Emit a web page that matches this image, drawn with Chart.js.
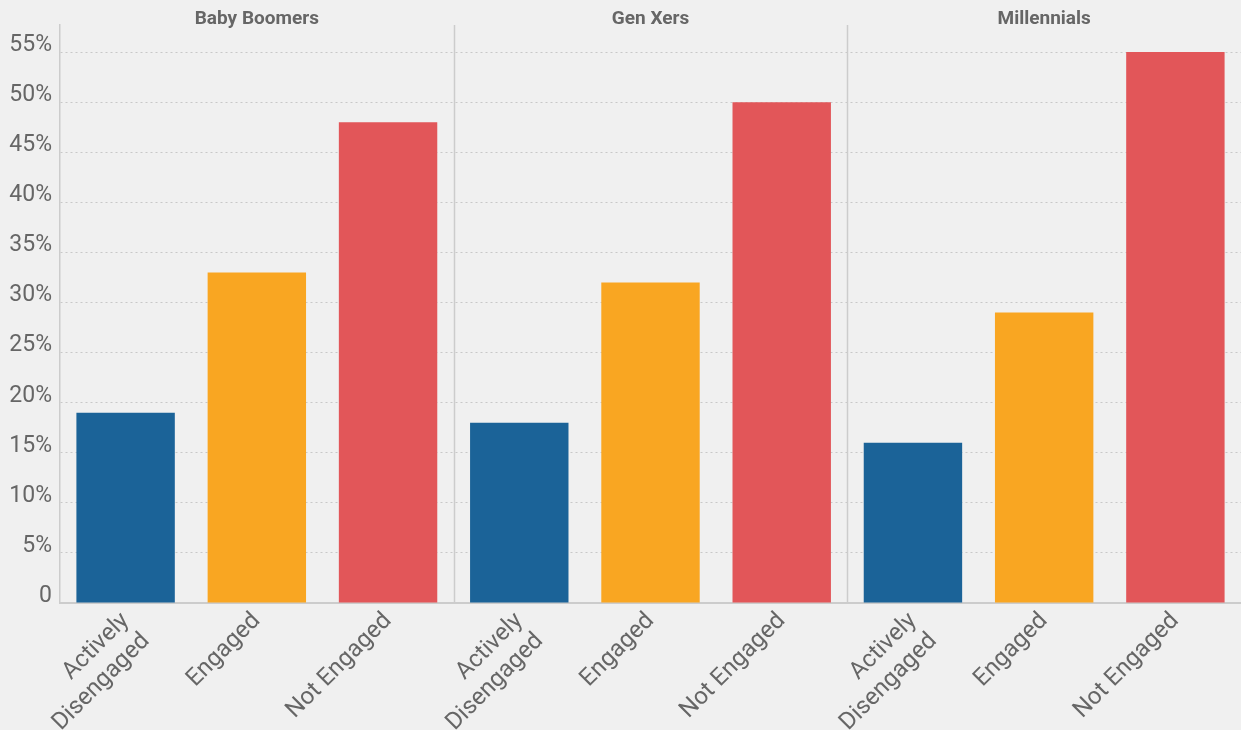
<!DOCTYPE html>
<html>
<head>
<meta charset="utf-8">
<script src="https://cdn.jsdelivr.net/npm/chart.js@4"></script>
<style>
  html, body { margin: 0; padding: 0; background: #f0f0f0; }
  #wrap { width: 1241px; height: 730px; }
</style>
</head>
<body>
<div id="wrap"><canvas id="chart"></canvas></div>
<script>
// 세대 그룹과 응답 항목
const groups = ['Baby Boomers', 'Gen Xers', 'Millennials'];
const categories = [['Actively', 'Disengaged'], 'Engaged', 'Not Engaged'];
const categoryColors = ['#1b6398', '#f9a622', '#e25659'];

// 그룹별 값 (%)
const babyBoomers = [19, 33, 48];
const genXers = [18, 32, 50];
const millennials = [16, 29, 55];

const yTicks = [0, 5, 10, 15, 20, 25, 30, 35, 40, 45, 50, 55];

// 9개 막대로 펼치기
const seriesByGroup = [babyBoomers, genXers, millennials];
const labels = [];
const values = [];
const colors = [];
seriesByGroup.forEach(series => {
    series.forEach((v, i) => {
        labels.push(categories[i]);
        values.push(v);
        colors.push(categoryColors[i]);
    });
});

// 그룹 구분선 + 그룹 제목
const panelPlugin = {
    id: 'panels',
    afterDatasetsDraw(chart) {
        const { ctx, chartArea, scales } = chart;
        const x = scales.x;
        const per = categories.length;
        ctx.save();
        ctx.strokeStyle = '#cccccc';
        ctx.lineWidth = 1.5;
        for (let g = 1; g < groups.length; g++) {
            const left = x.getPixelForValue(g * per - 1);
            const right = x.getPixelForValue(g * per);
            const sx = Math.round((left + right) / 2) + 0.5;
            ctx.beginPath();
            ctx.moveTo(sx, chartArea.top);
            ctx.lineTo(sx, chartArea.bottom);
            ctx.stroke();
        }
        ctx.fillStyle = '#666666';
        ctx.font = 'bold 19px Roboto';
        ctx.textAlign = 'center';
        ctx.textBaseline = 'middle';
        groups.forEach((name, g) => {
            const cx = x.getPixelForValue(g * per + (per - 1) / 2);
            ctx.fillText(name, cx, chartArea.top - 6);
        });
        ctx.restore();
    }
};

new Chart(document.getElementById('chart'), {
    type: 'bar',
    data: {
        labels: labels,
        datasets: [{
            data: values,
            backgroundColor: colors,
            barPercentage: 0.75,
            categoryPercentage: 1
        }]
    },
    options: {
        responsive: true,
        maintainAspectRatio: false,
        animation: false,
        layout: { padding: { top: 25, right: 0, left: 0, bottom: 0 } },
        plugins: {
            legend: { display: false },
            tooltip: { enabled: false }
        },
        scales: {
            x: {
                grid: { display: false },
                border: { color: '#cccccc', width: 2 },
                ticks: {
                    color: '#666666',
                    font: { family: 'Roboto', size: 24 },
                    minRotation: 45,
                    maxRotation: 45,
                    padding: -4
                },
                afterFit(scale) { scale.height = 127; }
            },
            y: {
                min: 0,
                max: 57.7,
                grid: {
                    color: '#c8c8c8',
                    lineWidth: 1,
                    tickLength: 0
                },
                border: { color: '#cccccc', width: 1.5, dash: [2, 3] },
                ticks: {
                    stepSize: 5,
                    color: '#666666',
                    font: { family: 'Roboto', size: 23, lineHeight: 0.6 },
                    padding: 8,
                    // 빈 둘째 줄로 라벨을 눈금선보다 살짝 위로 올림
                    callback: v => [v === 0 ? '0' : v + '%', '']
                },
                afterBuildTicks(scale) {
                    scale.ticks = yTicks.map(v => ({ value: v }));
                },
                afterFit(scale) { scale.width = 60; }
            }
        }
    },
    plugins: [panelPlugin]
});
</script>
</body>
</html>
